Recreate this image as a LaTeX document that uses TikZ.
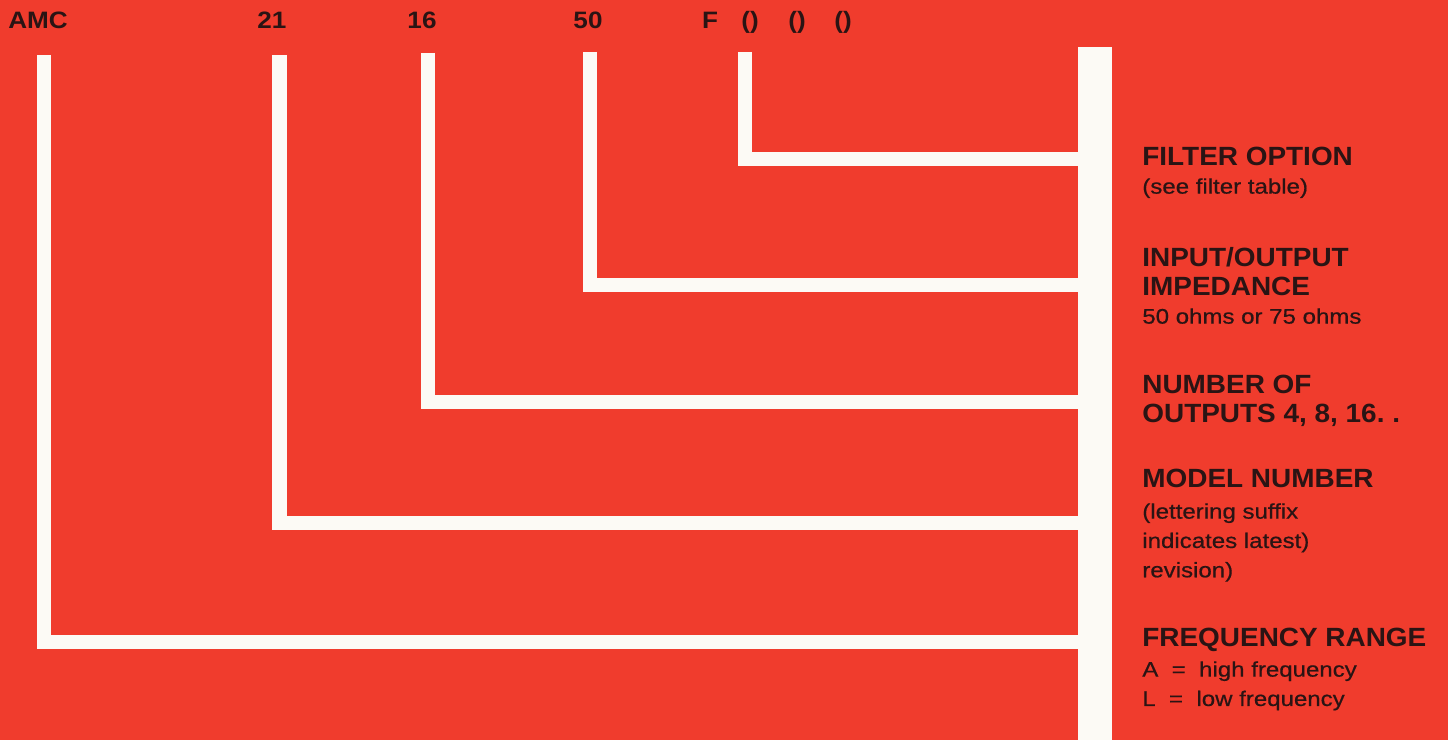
\documentclass[tikz,border=0pt]{standalone}
\usepackage{fontspec}
\setmainfont{Liberation Sans}
\newfontfamily\codefont[FakeStretch=1.1]{Liberation Sans}
\newfontfamily\headfont[FakeStretch=1.06]{Liberation Sans}
\newfontfamily\notefont[FakeStretch=1.14, FakeBold=0.6]{Liberation Sans}
\usetikzlibrary{positioning}
\definecolor{sheetred}{RGB}{240,60,45}
\definecolor{leadwhite}{RGB}{252,250,245}
\definecolor{inkdark}{RGB}{42,20,20}

\begin{document}
\begin{tikzpicture}[
    x=0.02cm, y=-0.02cm,
    code/.style={font=\codefont\bfseries\fontsize{13.5}{15}\selectfont, text=inkdark,
                 inner sep=0pt, anchor=base},
    head/.style={font=\headfont\bfseries\fontsize{15}{16.44}\selectfont, text=inkdark,
                 inner sep=0pt, anchor=north west, align=left},
    note/.style={font=\notefont\fontsize{12}{16.7}\selectfont, text=inkdark,
                 inner sep=0pt, anchor=north west, align=left},
    lead/.style={draw=leadwhite, line width=0.29cm, line join=miter, line cap=butt}
]
    \fill[sheetred] (0,0) rectangle (1448,740);
    \useasboundingbox (0,0) rectangle (1448,740);

    % code letters along the top
    \node[code, anchor=base west] (amc) at (8,29) {AMC};
    \node[code] (model) at (272,29) {21};
    \node[code] (outs) at (422,29) {16};
    \node[code] (imp) at (588,29) {50};
    \node[code] (filt) at (710,29) {F};
    \node[code] (opta) at (750,29) {()};
    \node[code] (optb) at (797,29) {()};
    \node[code] (optc) at (843,29) {()};

    % collecting bar
    \node[fill=leadwhite, inner sep=0pt, minimum width=0.68cm, minimum height=13.9cm,
          anchor=north west] (bar) at (1078,47) {};

    % leader lines
    \coordinate (amc top) at (44,55);     \coordinate (amc bend) at (44,642);
    \coordinate (model top) at (279.5,55); \coordinate (model bend) at (279.5,523);
    \coordinate (outs top) at (428,53);   \coordinate (outs bend) at (428,402);
    \coordinate (imp top) at (590,52);    \coordinate (imp bend) at (590,285);
    \coordinate (filt top) at (745,52);   \coordinate (filt bend) at (745,159);
    \draw[lead] (amc top) -- (amc bend) -- (amc bend -| bar.west);
    \draw[lead] (model top) -- (model bend) -- (model bend -| bar.west);
    \draw[lead] (outs top) -- (outs bend) -- (outs bend -| bar.west);
    \draw[lead] (imp top) -- (imp bend) -- (imp bend -| bar.west);
    \draw[lead] (filt top) -- (filt bend) -- (filt bend -| bar.west);

    % key on the right
    \node[head] (filter head) at (1142,147) {FILTER OPTION};
    \node[note] (filter note) at (1142,178) {(see filter table)};
    \node[head] (imp head) at (1142,247) {INPUT/OUTPUT\\IMPEDANCE};
    \node[note] (imp note) at (1142,308) {50 ohms or 75 ohms};
    \node[head] (outs head) at (1142,375) {NUMBER OF\\OUTPUTS 4, 8, 16.\ .};
    \node[head] (model head) at (1142,469) {MODEL NUMBER};
    \node[note] (model note) at (1142,503) {(lettering suffix\\indicates latest)\\revision)};
    \node[head] (freq head) at (1142,628) {FREQUENCY RANGE};
    \node[note] (freq note) at (1142,661) {A \ = \ high frequency\\L \ = \ low frequency};
\end{tikzpicture}
\end{document}
